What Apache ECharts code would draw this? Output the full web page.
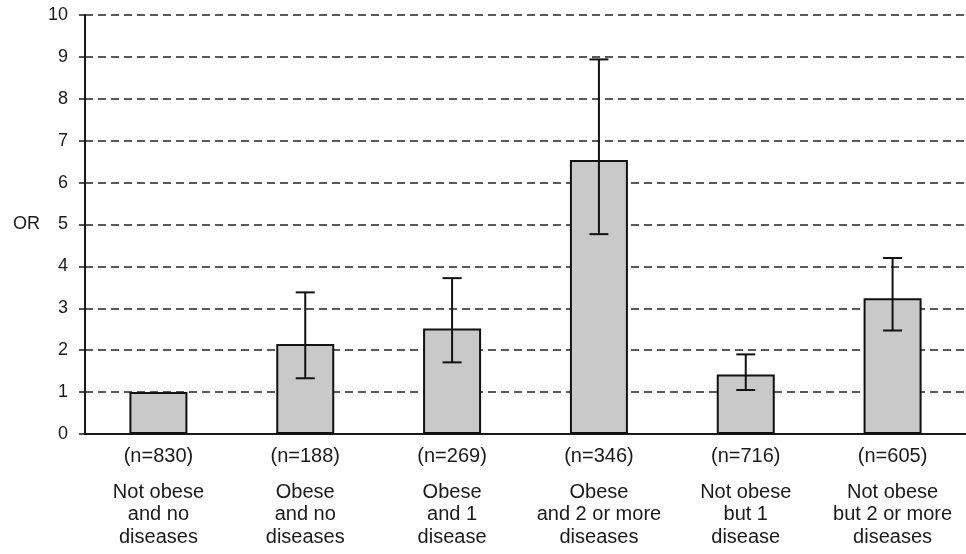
<!DOCTYPE html>
<html>
<head>
<meta charset="utf-8">
<script src="https://cdn.jsdelivr.net/npm/echarts@6/dist/echarts.min.js"></script>
<style>
  html, body { margin: 0; padding: 0; background: #fff; }
  #chart { width: 966px; height: 554px; }
</style>
</head>
<body>
<div id="chart"></div>
<script>
// Group sizes and group descriptions
const sampleSizes = ['830', '188', '269', '346', '716', '605'];
const groupNames = [
  'Not obese\nand no\ndiseases',
  'Obese\nand no\ndiseases',
  'Obese\nand 1\ndisease',
  'Obese\nand 2 or more\ndiseases',
  'Not obese\nbut 1\ndisease',
  'Not obese\nbut 2 or more\ndiseases'
];
// Odds ratios with 95% confidence limits (reference group has none)
const oddsRatios = [1.0, 2.15, 2.52, 6.54, 1.42, 3.24];
const ciLower = [null, 1.33, 1.71, 4.77, 1.05, 2.47];
const ciUpper = [null, 3.38, 3.72, 8.94, 1.90, 4.20];
const yTicks = [0, 1, 2, 3, 4, 5, 6, 7, 8, 9, 10];

const FONT = '"Liberation Sans", Arial, sans-serif';
const INK = '#1a1a1a';

const categories = sampleSizes.map((n, i) => ({
  value: '(n=' + n + ')',
  name: groupNames[i]
}));

const errorData = ciLower.map((lo, i) => [i, lo, ciUpper[i]]).filter(d => d[1] !== null);

const chart = echarts.init(document.getElementById('chart'), null, { renderer: 'canvas' });

chart.setOption({
  animation: false,
  backgroundColor: '#fff',
  grid: { left: 85, right: -3, top: 15, bottom: 120, containLabel: false },
  xAxis: {
    type: 'category',
    data: categories.map(c => c.value),
    axisLine: { show: true, lineStyle: { color: INK, width: 2 } },
    axisTick: { show: false },
    axisLabel: {
      interval: 0,
      margin: 11,
      formatter: function (val, idx) {
        const lines = groupNames[idx].split('\n').map(l => '{c|' + l + '}');
        return '{n|' + val + '}\n{s| }\n' + lines.join('\n');
      },
      rich: {
        n: { fontFamily: FONT, fontSize: 20, lineHeight: 22, color: INK },
        s: { fontSize: 1, lineHeight: 14 },
        c: { fontFamily: FONT, fontSize: 20, lineHeight: 22.5, color: INK }
      }
    }
  },
  yAxis: {
    type: 'value',
    min: yTicks[0],
    max: yTicks[yTicks.length - 1],
    interval: 1,
    name: 'OR',
    nameLocation: 'middle',
    nameRotate: 0,
    nameGap: 45,
    nameTextStyle: { fontFamily: FONT, fontSize: 18, color: INK },
    axisLine: { show: true, lineStyle: { color: INK, width: 2 } },
    axisTick: { show: true, inside: false, length: 6, lineStyle: { color: INK, width: 1.5 } },
    axisLabel: { fontFamily: FONT, fontSize: 18, color: INK, margin: 17 },
    splitLine: {
      show: true,
      lineStyle: { color: '#5a5a5a', width: 2, type: [8, 5] }
    }
  },
  series: [
    {
      type: 'bar',
      data: oddsRatios,
      barWidth: 58,
      itemStyle: { color: '#c9c9c9', borderColor: '#111', borderWidth: 2 },
      z: 2
    },
    {
      type: 'custom',
      data: errorData,
      z: 3,
      renderItem: function (params, api) {
        const x = api.value(0);
        const lo = api.coord([x, api.value(1)]);
        const hi = api.coord([x, api.value(2)]);
        const half = 9.5;
        const style = { stroke: '#111', lineWidth: 2 };
        return {
          type: 'group',
          children: [
            { type: 'line', shape: { x1: lo[0], y1: lo[1], x2: hi[0], y2: hi[1] }, style: style },
            { type: 'line', shape: { x1: hi[0] - half, y1: hi[1], x2: hi[0] + half, y2: hi[1] }, style: style },
            { type: 'line', shape: { x1: lo[0] - half, y1: lo[1], x2: lo[0] + half, y2: lo[1] }, style: style }
          ]
        };
      }
    }
  ]
});
</script>
</body>
</html>
